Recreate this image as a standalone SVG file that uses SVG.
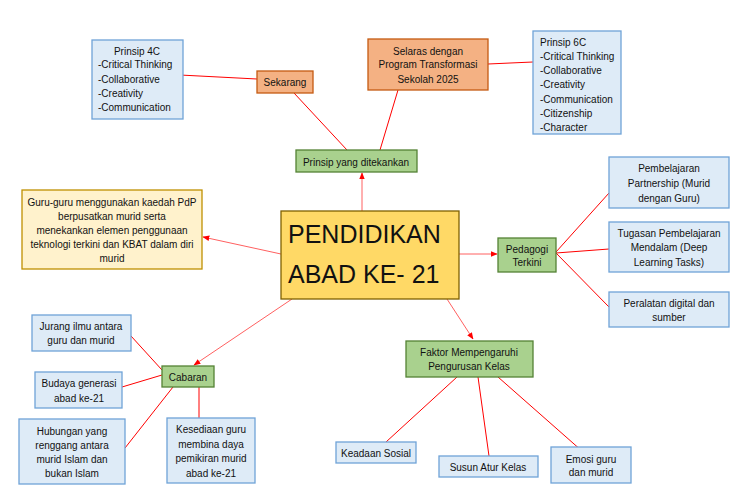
<svg xmlns="http://www.w3.org/2000/svg" width="743" height="499" viewBox="0 0 743 499">
<style>
text{font-family:"Liberation Sans",Arial,sans-serif;font-size:10px;fill:#111}
.c{text-anchor:middle}
.blue{fill:#DEEBF7;stroke:#6FA3D8;stroke-width:1.3}
.org{fill:#F4B183;stroke:#C55A11;stroke-width:1.3}
.grn{fill:#A9D18E;stroke:#548235;stroke-width:1.3}
.ln{stroke:#FF0000;stroke-width:1;fill:none}
.ar{stroke:#FF6060;stroke-width:1;fill:none;marker-end:url(#ah)}
</style>
<defs>
<marker id="ah" viewBox="0 0 10 10" refX="9" refY="5" markerWidth="7" markerHeight="7" orient="auto" markerUnits="userSpaceOnUse">
<path d="M0,1 L10,5 L0,9 z" fill="#FF0000"/>
</marker>
</defs>
<rect width="743" height="499" fill="#fff"/>
<g id="connectors">
<line class="ln" x1="180" y1="75" x2="257" y2="79"/>
<line class="ln" x1="294" y1="93" x2="347" y2="150"/>
<line class="ln" x1="398" y1="90" x2="380" y2="150"/>
<line class="ln" x1="488" y1="64" x2="533" y2="62"/>
<line class="ar" x1="362" y1="211" x2="362" y2="173"/>
<line class="ar" x1="281" y1="254" x2="203" y2="237"/>
<line class="ar" x1="459" y1="254" x2="497" y2="254"/>
<line class="ar" x1="292" y1="299" x2="194" y2="365"/>
<line class="ar" x1="447" y1="299" x2="473" y2="339"/>
<line class="ln" x1="556" y1="252" x2="609" y2="193"/>
<line class="ln" x1="556" y1="253" x2="609" y2="249"/>
<line class="ln" x1="556" y1="253" x2="609" y2="307"/>
<line class="ln" x1="131" y1="336" x2="162" y2="370"/>
<line class="ln" x1="122" y1="387" x2="162" y2="375"/>
<line class="ln" x1="125" y1="448" x2="173" y2="387"/>
<line class="ln" x1="199" y1="387" x2="199" y2="418"/>
<line class="ln" x1="457" y1="377" x2="386" y2="442"/>
<line class="ln" x1="478" y1="377" x2="489" y2="456"/>
<line class="ln" x1="498" y1="377" x2="582" y2="451"/>
</g>
<g id="prinsip4c">
<rect class="blue" x="92" y="40" width="91" height="79"/>
<text class="c" x="137" y="55">Prinsip 4C</text>
<text x="98" y="68">-Critical Thinking</text>
<text x="98" y="83">-Collaborative</text>
<text x="98" y="97">-Creativity</text>
<text x="98" y="111">-Communication</text>
</g>
<g id="sekarang">
<rect class="org" x="257" y="71" width="56" height="22"/>
<text class="c" x="285" y="86">Sekarang</text>
</g>
<g id="selaras">
<rect class="org" x="368" y="39" width="120" height="51"/>
<text class="c" x="428" y="55">Selaras dengan</text>
<text class="c" x="428" y="68">Program Transformasi</text>
<text class="c" x="428" y="83">Sekolah 2025</text>
</g>
<g id="prinsip6c">
<rect class="blue" x="533" y="31" width="88" height="103"/>
<text x="540" y="46">Prinsip 6C</text>
<text x="540" y="60">-Critical Thinking</text>
<text x="540" y="74">-Collaborative</text>
<text x="540" y="88">-Creativity</text>
<text x="540" y="103">-Communication</text>
<text x="540" y="117">-Citizenship</text>
<text x="540" y="131">-Character</text>
</g>
<g id="prinsip-ditekankan">
<rect class="grn" x="296" y="150" width="121" height="22"/>
<text class="c" x="356" y="166">Prinsip yang ditekankan</text>
</g>
<g id="guru">
<rect x="22" y="190" width="180" height="79" fill="#FFF2CC" stroke="#BF9000" stroke-width="1.3"/>
<text class="c" x="112" y="206">Guru-guru menggunakan kaedah PdP</text>
<text class="c" x="112" y="220">berpusatkan murid serta</text>
<text class="c" x="112" y="234">menekankan elemen penggunaan</text>
<text class="c" x="112" y="248">teknologi terkini dan KBAT dalam diri</text>
<text class="c" x="112" y="262">murid</text>
</g>
<g id="pendidikan">
<rect x="281" y="211" width="178" height="88" fill="#FFD966" stroke="#7F6000" stroke-width="1.3"/>
<text x="288" y="243" style="font-size:25px">PENDIDIKAN</text>
<text x="288" y="283" style="font-size:25px">ABAD KE- 21</text>
</g>
<g id="pedagogi">
<rect class="grn" x="498" y="238" width="58" height="34"/>
<text class="c" x="527" y="253">Pedagogi</text>
<text class="c" x="527" y="266">Terkini</text>
</g>
<g id="partnership">
<rect class="blue" x="609" y="157" width="120" height="51"/>
<text class="c" x="669" y="172">Pembelajaran</text>
<text class="c" x="669" y="187">Partnership (Murid</text>
<text class="c" x="669" y="202">dengan Guru)</text>
</g>
<g id="tugasan">
<rect class="blue" x="609" y="222" width="120" height="50"/>
<text class="c" x="669" y="237">Tugasan Pembelajaran</text>
<text class="c" x="669" y="251">Mendalam (Deep</text>
<text class="c" x="669" y="266">Learning Tasks)</text>
</g>
<g id="peralatan">
<rect class="blue" x="609" y="292" width="120" height="35"/>
<text class="c" x="669" y="307">Peralatan digital dan</text>
<text class="c" x="669" y="321">sumber</text>
</g>
<g id="cabaran">
<rect class="grn" x="162" y="366" width="52" height="21"/>
<text class="c" x="188" y="381">Cabaran</text>
</g>
<g id="jurang">
<rect class="blue" x="32" y="315" width="99" height="36"/>
<text class="c" x="81" y="330">Jurang ilmu antara</text>
<text class="c" x="81" y="344">guru dan murid</text>
</g>
<g id="budaya">
<rect class="blue" x="35" y="372" width="87" height="36"/>
<text class="c" x="79" y="387">Budaya generasi</text>
<text class="c" x="79" y="402">abad ke-21</text>
</g>
<g id="hubungan">
<rect class="blue" x="19" y="419" width="106" height="65"/>
<text class="c" x="72" y="435">Hubungan yang</text>
<text class="c" x="72" y="449">renggang antara</text>
<text class="c" x="72" y="463">murid Islam dan</text>
<text class="c" x="72" y="477">bukan Islam</text>
</g>
<g id="kesediaan">
<rect class="blue" x="167" y="418" width="88" height="65"/>
<text class="c" x="211" y="433">Kesediaan guru</text>
<text class="c" x="211" y="448">membina daya</text>
<text class="c" x="211" y="462">pemikiran murid</text>
<text class="c" x="211" y="477">abad ke-21</text>
</g>
<g id="faktor">
<rect class="grn" x="406" y="341" width="127" height="36"/>
<text class="c" x="469" y="356">Faktor Mempengaruhi</text>
<text class="c" x="469" y="370">Pengurusan Kelas</text>
</g>
<g id="keadaan">
<rect class="blue" x="336" y="442" width="80" height="21"/>
<text class="c" x="376" y="457">Keadaan Sosial</text>
</g>
<g id="susun">
<rect class="blue" x="439" y="456" width="99" height="21"/>
<text class="c" x="488" y="471">Susun Atur Kelas</text>
</g>
<g id="emosi">
<rect class="blue" x="551" y="447" width="80" height="36"/>
<text class="c" x="591" y="463">Emosi guru</text>
<text class="c" x="591" y="476">dan murid</text>
</g>
</svg>
